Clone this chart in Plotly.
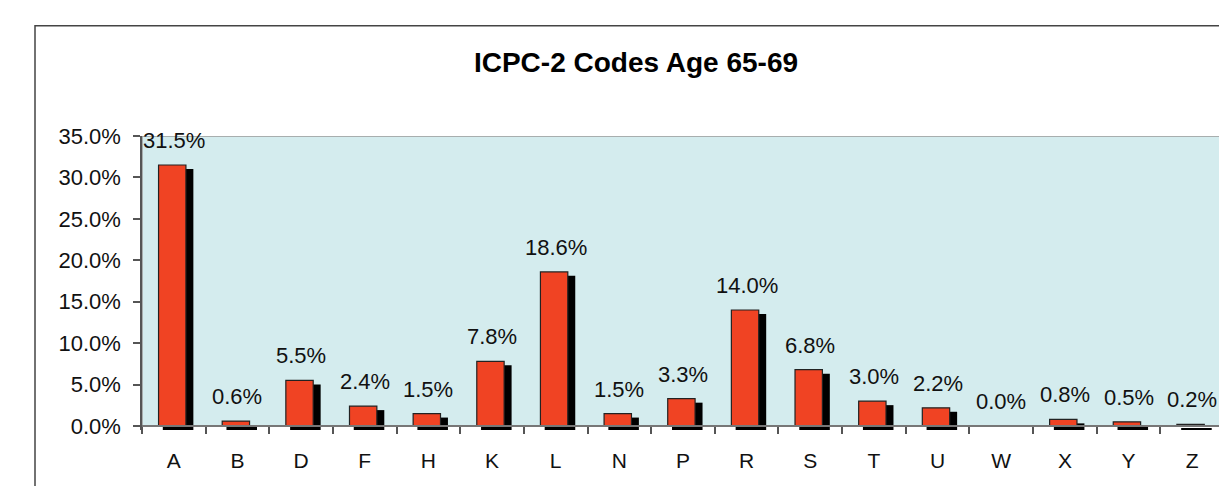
import plotly.graph_objects as go

categories = ["A", "B", "D", "F", "H", "K", "L", "N", "P", "R", "S", "T", "U", "W", "X", "Y", "Z"]
values = [31.5, 0.6, 5.5, 2.4, 1.5, 7.8, 18.6, 1.5, 3.3, 14.0, 6.8, 3.0, 2.2, 0.0, 0.8, 0.5, 0.2]
title_text = "ICPC-2 Codes Age 65-69"
y_ticks = [0.0, 0.05, 0.10, 0.15, 0.20, 0.25, 0.30, 0.35]

fracs = [v / 100 for v in values]

# page body has an 8px margin; figure sized to fit the window
OFF = 8
W, H = 1227 - OFF, 486 - OFF
ml, mt = 142 - OFF, 136 - OFF
mr = W - (1224 - OFF)
mb = H - (430 - OFF)
ymin, ymax = -0.0048, 0.35
shadow_drop = 0.0048
plot_h = H - mt - mb
plot_w = W - ml - mr

FONT = "Liberation Sans, Arial, sans-serif"

fig = go.Figure()

# shadow bars
fig.add_trace(go.Bar(
    x=categories, y=fracs, base=[-shadow_drop] * len(fracs),
    width=0.48, offset=-0.173,
    marker=dict(color="black", line=dict(width=0)),
    hoverinfo="skip", showlegend=False,
))
# main bars
fig.add_trace(go.Bar(
    x=categories, y=fracs,
    width=0.43, offset=-0.24,
    marker=dict(color="#F04323", line=dict(color="#222", width=1.2)),
    showlegend=False,
))

annotations = []
for c, f in zip(categories, fracs):
    annotations.append(dict(
        x=c, y=f, xref="x", yref="y", text=f"{f*100:.1f}%",
        showarrow=False, yanchor="bottom", yshift=10,
        font=dict(family=FONT, size=22, color="#111"),
    ))

# outer chart frame
frame = dict(type="rect", xref="paper", yref="paper",
             x0=(35 - OFF - ml) / plot_w, x1=1.05,
             y0=-0.5, y1=(H - mb - (25.7 - OFF)) / plot_h,
             line=dict(color="#444", width=1.5), fillcolor="rgba(0,0,0,0)", layer="below")
plotbg = dict(type="rect", xref="paper", yref="y", x0=0, x1=1, y0=0, y1=ymax,
              line=dict(color="#999", width=1.5), fillcolor="#D4ECEE", layer="below")

fig.update_layout(
    width=W, height=H,
    margin=dict(l=ml, r=mr, t=mt, b=mb),
    paper_bgcolor="white", plot_bgcolor="rgba(0,0,0,0)",
    barmode="overlay",
    title=dict(text="<b>" + title_text + "</b>", x=(636 - OFF - ml) / plot_w, xref="paper",
               xanchor="center", y=1 - (62 - OFF) / H, yanchor="middle",
               font=dict(family=FONT, size=28, color="black")),
    shapes=[frame, plotbg],
    annotations=annotations,
    font=dict(family=FONT, size=22, color="#111"),
    xaxis=dict(
        type="category", categoryarray=categories, range=[-0.5, len(categories) - 0.5],
        anchor="free", position=(0 - ymin) / (ymax - ymin),
        showline=True, linecolor="#777", linewidth=1.5,
        ticks="outside", ticklen=7, tickcolor="#555", tickwidth=1.5,
        tickson="boundaries", ticklabelstandoff=16,
        showgrid=False, zeroline=False,
        tickfont=dict(family=FONT, size=21, color="#111"),
    ),
    yaxis=dict(
        range=[ymin, ymax], tickvals=y_ticks, tickformat=".1%",
        showline=True, linecolor="#555", linewidth=1.5,
        ticks="outside", ticklen=7, tickcolor="#555", tickwidth=1.5,
        ticklabelstandoff=8,
        showgrid=False, zeroline=False,
        tickfont=dict(family=FONT, size=22, color="#111"),
    ),
)

fig.write_html("out.html")
